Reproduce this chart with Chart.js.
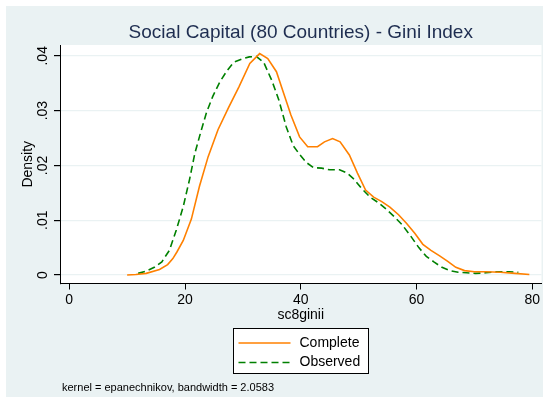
<!DOCTYPE html>
<html>
<head>
<meta charset="utf-8">
<script src="https://cdn.jsdelivr.net/npm/chart.js@4/dist/chart.umd.min.js"></script>
<style>
  html, body { margin: 0; padding: 0; background: #ffffff; }
  #wrap { width: 549px; height: 403px; }
</style>
</head>
<body>
<div id="wrap"><canvas id="kd" width="549" height="403"></canvas></div>
<script>
// Kernel density estimates of sc8ginii
const COMPLETE_X = [10.0, 11.5, 13.3, 15.6, 17.0, 17.9, 18.6, 19.7, 21.1, 22.5, 24.0, 25.7, 27.5, 29.3, 31.2, 32.9, 34.3, 35.8, 37.0, 38.3, 39.8, 41.2, 42.9, 44.1, 45.5, 46.8, 48.4, 49.8, 51.2, 52.6, 54.0, 55.4, 56.9, 58.3, 59.7, 61.1, 62.5, 64.0, 65.4, 66.8, 68.3, 70.0, 72.0, 74.5, 77.0, 79.5];
const COMPLETE_Y = [0, 0.0001, 0.0003, 0.001, 0.0019, 0.003, 0.0042, 0.0063, 0.0102, 0.0162, 0.0216, 0.0265, 0.0305, 0.0343, 0.0386, 0.0404, 0.0395, 0.0371, 0.0333, 0.0292, 0.0252, 0.0234, 0.0234, 0.0243, 0.0249, 0.0243, 0.0219, 0.0186, 0.0155, 0.0142, 0.0134, 0.0124, 0.011, 0.0094, 0.0076, 0.0056, 0.0045, 0.0035, 0.0025, 0.0014, 0.0008, 0.0006, 0.0006, 0.0005, 0.0003, 0.0001];

const OBSERVED_X = [11.9, 13.3, 14.7, 16.0, 17.3, 18.5, 19.7, 20.8, 21.7, 22.7, 23.7, 24.8, 26.0, 27.2, 28.4, 29.8, 31.1, 32.3, 33.6, 35.0, 36.2, 37.5, 38.7, 39.8, 41.0, 42.2, 43.6, 45.0, 46.7, 48.0, 49.2, 50.5, 52.0, 53.4, 54.8, 56.1, 57.5, 59.0, 60.4, 61.7, 63.0, 64.4, 65.8, 67.2, 68.6, 70.2, 72.0, 74.0, 76.0, 77.6];
const OBSERVED_Y = [0.0003, 0.0007, 0.0014, 0.0024, 0.0045, 0.0082, 0.0125, 0.0175, 0.0222, 0.026, 0.0296, 0.0326, 0.0352, 0.0372, 0.0388, 0.0394, 0.0398, 0.0399, 0.0388, 0.0355, 0.032, 0.027, 0.0236, 0.022, 0.0205, 0.0196, 0.0195, 0.0192, 0.0192, 0.0186, 0.0175, 0.0158, 0.0142, 0.0132, 0.012, 0.0107, 0.0092, 0.0071, 0.005, 0.0034, 0.0024, 0.0014, 0.0008, 0.0005, 0.0004, 0.0003, 0.0004, 0.0006, 0.0006, 0.0005];

const SERIES_NAMES = ['Complete', 'Observed'];
const X_TICKS = [0, 20, 40, 60, 80];
const X_TICK_LABELS = ['0', '20', '40', '60', '80'];
const Y_TICKS = [0, 0.01, 0.02, 0.03, 0.04];
const Y_TICK_LABELS = ['0', '.01', '.02', '.03', '.04'];

const TITLE = 'Social Capital (80 Countries) - Gini Index';
const X_TITLE = 'sc8ginii';
const Y_TITLE = 'Density';
const NOTE = 'kernel = epanechnikov, bandwidth = 2.0583';

const FONT = '"Liberation Sans", Arial, Helvetica, sans-serif';
const BG = 'rgb(234,242,243)';
const ORANGE = 'rgb(255,128,0)';
const GREEN = 'rgb(0,128,0)';

const toPoints = (xs, ys) => xs.map((x, i) => ({ x: x, y: ys[i] }));

// Graph region background, white plot region, legend box and note
const framePlugin = {
  id: 'frame',
  beforeDraw(chart) {
    const { ctx, chartArea: a } = chart;
    ctx.save();
    ctx.fillStyle = '#ffffff';
    ctx.fillRect(0, 0, chart.width, chart.height);
    ctx.fillStyle = BG;
    ctx.fillRect(6, 6, chart.width - 12, chart.height - 12);
    ctx.fillStyle = '#ffffff';
    ctx.fillRect(a.left, a.top, a.right - a.left, a.bottom - a.top);
    ctx.restore();
  },
  afterDraw(chart) {
    const { ctx, chartArea: a } = chart;
    const boxW = 135, boxH = 45;
    const cx = (a.left + a.right) / 2;
    const bx = Math.round(cx - boxW / 2) + 0.5;
    const by = 328.5;
    ctx.save();
    ctx.fillStyle = '#ffffff';
    ctx.fillRect(bx, by, boxW, boxH);
    ctx.strokeStyle = '#000000';
    ctx.lineWidth = 1;
    ctx.strokeRect(bx, by, boxW, boxH);
    chart.data.datasets.forEach((ds, i) => {
      const y = by + 14.5 + i * 19.5;
      ctx.beginPath();
      ctx.setLineDash(ds.borderDash || []);
      ctx.strokeStyle = ds.borderColor;
      ctx.lineWidth = ds.borderWidth;
      ctx.moveTo(bx + 5, y);
      ctx.lineTo(bx + 57, y);
      ctx.stroke();
      ctx.setLineDash([]);
      ctx.fillStyle = '#000000';
      ctx.font = '14px ' + FONT;
      ctx.textBaseline = 'middle';
      ctx.textAlign = 'left';
      ctx.fillText(ds.label, bx + 66, y);
    });
    ctx.font = '11px ' + FONT;
    ctx.fillStyle = '#000000';
    ctx.textBaseline = 'middle';
    ctx.textAlign = 'left';
    ctx.fillText(NOTE, 62, 388);
    ctx.restore();
  }
};

new Chart(document.getElementById('kd'), {
  type: 'line',
  data: {
    datasets: [
      {
        label: SERIES_NAMES[0],
        data: toPoints(COMPLETE_X, COMPLETE_Y),
        borderColor: ORANGE,
        borderWidth: 1.6,
        pointRadius: 0,
        tension: 0,
        fill: false
      },
      {
        label: SERIES_NAMES[1],
        data: toPoints(OBSERVED_X, OBSERVED_Y),
        borderColor: GREEN,
        borderWidth: 1.6,
        borderDash: [7, 4],
        pointRadius: 0,
        tension: 0,
        fill: false
      }
    ]
  },
  options: {
    responsive: false,
    animation: false,
    devicePixelRatio: 1,
    layout: { padding: { top: 6, left: 6, right: 7.5, bottom: 79.5 } },
    plugins: {
      legend: { display: false },
      tooltip: { enabled: false },
      title: {
        display: true,
        text: TITLE,
        fullSize: false,
        color: 'rgb(30,45,80)',
        font: { family: FONT, size: 19, weight: 'normal', lineHeight: 1.2 },
        padding: { top: 15, bottom: 1.2 }
      }
    },
    scales: {
      x: {
        type: 'linear',
        min: -1.6,
        max: 81.6,
        afterBuildTicks(scale) { scale.ticks = X_TICKS.map(v => ({ value: v })); },
        afterFit(scale) { scale.height = 40; },
        ticks: {
          callback: (v) => X_TICK_LABELS[X_TICKS.indexOf(v)],
          color: '#000000',
          font: { family: FONT, size: 14 },
          padding: 2,
          maxRotation: 0,
          minRotation: 0
        },
        grid: { drawOnChartArea: false, drawTicks: true, tickLength: 6, tickColor: '#000000', lineWidth: 1 },
        border: { display: true, color: '#000000', width: 1 },
        title: {
          display: true,
          text: X_TITLE,
          color: '#000000',
          font: { family: FONT, size: 14 },
          padding: { top: 0, bottom: 0 }
        }
      },
      y: {
        type: 'linear',
        min: -0.00155,
        max: 0.04197,
        afterBuildTicks(scale) { scale.ticks = Y_TICKS.map(v => ({ value: v })); },
        afterFit(scale) { scale.width = 54; },
        ticks: {
          callback: (v) => Y_TICK_LABELS[Y_TICKS.indexOf(v)],
          color: '#000000',
          font: { family: FONT, size: 14 },
          padding: 1,
          minRotation: 90,
          maxRotation: 90,
          crossAlign: 'center'
        },
        grid: { color: BG, lineWidth: 1.2, drawTicks: true, tickLength: 6, tickColor: '#000000' },
        border: { display: true, color: '#000000', width: 1 },
        title: {
          display: true,
          text: Y_TITLE,
          color: '#000000',
          font: { family: FONT, size: 14 },
          padding: { top: 13.6, bottom: 0 }
        }
      }
    }
  },
  plugins: [framePlugin]
});
</script>
</body>
</html>
